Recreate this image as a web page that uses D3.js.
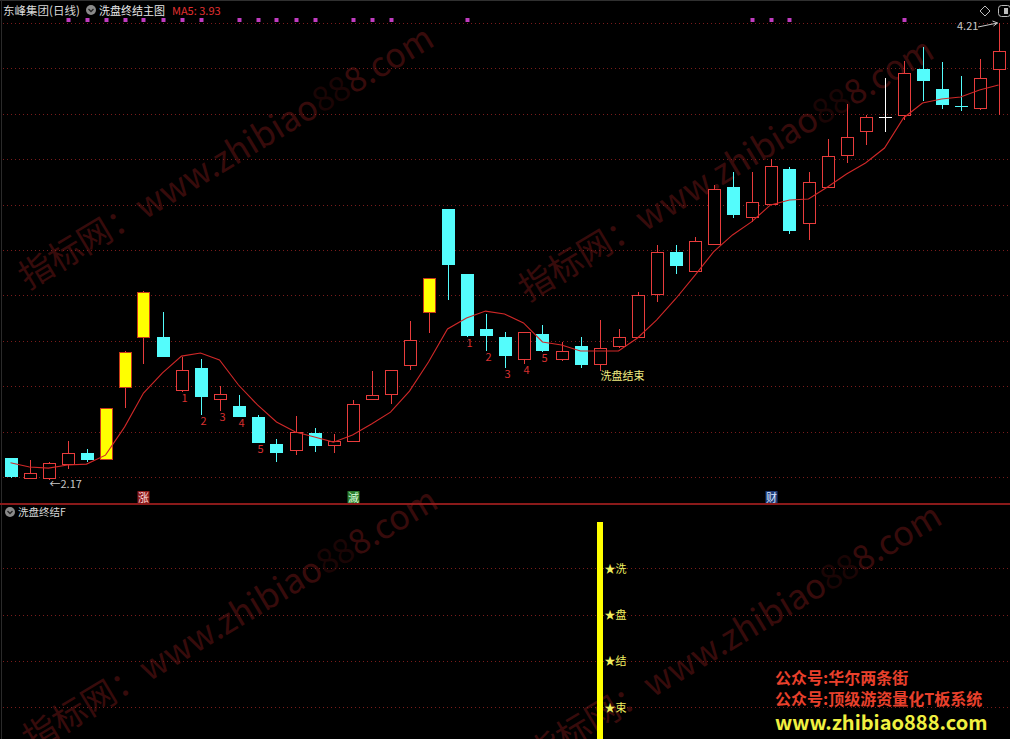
<!DOCTYPE html>
<html><head><meta charset="utf-8">
<script src="https://cdn.jsdelivr.net/npm/d3@7"></script>
<style>
html,body{margin:0;padding:0;background:#000;overflow:hidden}
svg{display:block}
text{font-family:"Noto Sans CJK SC","Noto Sans",sans-serif}
</style></head><body>
<svg id="c" width="1010" height="739"></svg>
<script>
// ---------- data ----------
const opens  = [2.27,2.18,2.18,2.24,2.29,2.265,2.585,2.81,2.81,2.57,2.67,2.53,2.50,2.45,2.33,2.305,2.38,2.325,2.345,2.53,2.555,2.685,2.92,3.38,3.09,2.845,2.81,2.71,2.82,2.71,2.77,2.69,2.77,2.81,3.00,3.19,3.105,3.225,3.48,3.345,3.40,3.56,3.315,3.48,3.62,3.73,3.79,3.80,4.005,3.915,3.84,3.83,4.005];
const highs  = [2.27,2.26,2.25,2.345,2.31,2.49,2.745,3.015,2.92,2.72,2.71,2.59,2.55,2.46,2.355,2.455,2.40,2.375,2.525,2.655,2.66,2.88,3.07,3.38,3.09,2.91,2.83,2.83,2.86,2.785,2.81,2.885,2.845,3.01,3.22,3.22,3.255,3.485,3.545,3.545,3.605,3.565,3.545,3.69,3.85,3.80,3.965,4.04,4.105,4.035,3.975,4.05,4.21];
const lows   = [2.18,2.175,2.17,2.22,2.25,2.26,2.49,2.69,2.72,2.565,2.46,2.48,2.45,2.335,2.25,2.28,2.295,2.29,2.34,2.525,2.51,2.66,2.825,2.975,2.81,2.745,2.67,2.69,2.74,2.70,2.67,2.655,2.76,2.81,2.965,3.09,3.10,3.22,3.34,3.32,3.40,3.27,3.24,3.48,3.585,3.665,3.725,3.775,3.86,3.825,3.815,3.82,3.80];
const closes = [2.185,2.20,2.245,2.29,2.26,2.49,2.74,3.01,2.72,2.66,2.54,2.555,2.45,2.335,2.29,2.385,2.32,2.345,2.51,2.55,2.66,2.795,3.07,3.13,2.815,2.815,2.725,2.83,2.745,2.745,2.685,2.76,2.81,2.995,3.19,3.125,3.235,3.47,3.355,3.41,3.57,3.28,3.50,3.615,3.70,3.79,3.79,3.985,3.95,3.845,3.84,3.965,4.085];
const ma5    = [2.247,2.228,2.223,2.237,2.241,2.281,2.406,2.558,2.648,2.723,2.737,2.706,2.594,2.505,2.429,2.384,2.362,2.339,2.371,2.42,2.473,2.567,2.697,2.844,2.893,2.924,2.911,2.871,2.786,2.773,2.746,2.746,2.746,2.804,2.884,2.978,3.081,3.188,3.264,3.322,3.398,3.42,3.424,3.478,3.536,3.585,3.652,3.786,3.853,3.871,3.88,3.911,3.933];
const limitUpIdx = [5,6,7,22];
const dotIdx = [3,4,5,6,7,8,9,10,12,13,14,15,16,18,19,20,24,39,40,41,47];
const countIdx = [9,10,11,12,13,24,25,26,27,28];
const countTxt = ["1","2","3","4","5","1","2","3","4","5"];
const washEndIdx = 31;
const washEndTxt = "洗盘结束";
const sigIdx = [7,18,40];
const sigTxt = ["涨","滅","财"];
const sigBg = ["#8a1a1a","#2c7a2c","#1e3c78"];
const sigFg = ["#ffd8d8","#d8ffd8","#d8e4ff"];
const priceGrid = [4.21,4.007,3.805,3.602,3.399,3.197,2.994,2.791,2.588,2.386,2.183];
const lowGrid = [4,3,2,1];
const lowBarValue = 5;
const lowStarTxt = ["★洗","★盘","★结","★束"];
const maxPrice = 4.21, minPrice = 2.17, maxIdx = 52, minIdx = 2;
const titleStock = "东峰集团(日线)";
const titleMain = "洗盘终结主图";
const titleMA = "MA5: 3.93";
const titleSub = "洗盘终结F";
const adLines = ["公众号:华尔两条街","公众号:顶级游资量化T板系统","www.zhibiao888.com"];
const wmParts = ["指标网：www.zhibiao","88","8.com"];

// ---------- setup ----------
const svg = d3.select("#c");
const W = 1010, H = 739;
const RED = "#e83c3c", CYAN = "#54fcfc", YEL = "#ffff00", GRID = "#7a1c1c";
const n = closes.length;
const x = d3.scaleLinear().domain([0, n-1]).range([10.5, 998.5]);
const y = d3.scaleLinear().domain([minPrice, maxPrice]).range([480, 23]);
const yl = d3.scaleLinear().domain([0, 5]).range([753.5, 522]);
const px = i => Math.round(x(i)) + 0.5;
const hw = 6;

svg.append("rect").attr("width",W).attr("height",H).attr("fill","#000");

// frame
svg.append("line").attr("x1",0).attr("x2",W).attr("y1",0.5).attr("y2",0.5).attr("stroke","#303030");
svg.append("line").attr("x1",1.5).attr("x2",1.5).attr("y1",0).attr("y2",H).attr("stroke","#2a2a2a");

// grid main
svg.append("g").selectAll("line").data(priceGrid).join("line")
  .attr("x1",3).attr("x2",W).attr("y1",d=>Math.round(y(d))+0.5).attr("y2",d=>Math.round(y(d))+0.5)
  .attr("stroke",GRID).attr("stroke-dasharray","1,3");

// grid low
svg.append("g").selectAll("line").data(lowGrid).join("line")
  .attr("x1",3).attr("x2",W).attr("y1",d=>Math.round(yl(d))+0.5).attr("y2",d=>Math.round(yl(d))+0.5)
  .attr("stroke",GRID).attr("stroke-dasharray","1,3");

// separator
svg.append("line").attr("x1",0).attr("x2",W).attr("y1",504).attr("y2",504).attr("stroke","#8a1a1a").attr("stroke-width",2);

// watermarks
const wmG = svg.append("g").attr("pointer-events","none");
[[28,290],[528,302],[32,752],[536,768]].forEach(([a,b])=>{
  const t = wmG.append("text").attr("transform",`translate(${a},${b}) rotate(-31)`)
    .attr("font-size",34).attr("fill","#9a2020").attr("opacity",0.36);
  t.append("tspan").text(wmParts[0]);
  t.append("tspan").attr("fill","#4a0e0e").text(wmParts[1]);
  t.append("tspan").text(wmParts[2]);
});

// header
svg.append("text").attr("x",3).attr("y",15).attr("font-size",11.5).attr("fill","#d8d8d8").text(titleStock);
const ic = svg.append("g").attr("transform","translate(91,10)");
ic.append("circle").attr("r",5).attr("fill","#8a8a8a");
ic.append("path").attr("d","M-2.5,-1 L0,1.5 L2.5,-1").attr("fill","none").attr("stroke","#222").attr("stroke-width",1.3);
svg.append("text").attr("x",99).attr("y",15).attr("font-size",11).attr("fill","#e8e8e8").text(titleMain);
svg.append("text").attr("x",172).attr("y",15).attr("font-size",11).attr("fill","#e03030").attr("font-family","Liberation Sans, Arial").text(titleMA);

// top-right icons
svg.append("path").attr("d","M985,6 L990,11 L985,16 L980,11 Z").attr("fill","none").attr("stroke","#bbb");
svg.append("rect").attr("x",998.5).attr("y",5.5).attr("width",12).attr("height",11).attr("rx",3).attr("fill","none").attr("stroke","#bbb");
svg.append("rect").attr("x",1004).attr("y",8).attr("width",4).attr("height",6).attr("fill","#bbb");

// dots
svg.append("g").selectAll("rect").data(dotIdx).join("rect")
  .attr("x",d=>px(d)-2).attr("y",18).attr("width",4).attr("height",4).attr("fill","#c03cc0");

// candles
const cg = svg.append("g");
for (let i=0;i<n;i++){
  const o=opens[i], c=closes[i], h=highs[i], l=lows[i];
  const xc = px(i);
  const isLU = limitUpIdx.includes(i);
  let col;
  if (c>o) col=RED; else if (c<o) col=CYAN;
  else { const pc = i>0?closes[i-1]:c; col = c>pc?RED:(c<pc?CYAN:"#ffffff"); }
  const yt = Math.round(y(Math.max(o,c))), yb = Math.round(y(Math.min(o,c)));
  const yh = Math.round(y(h)), ylw = Math.round(y(l));
  if (c===o){
    cg.append("line").attr("x1",xc).attr("x2",xc).attr("y1",yh).attr("y2",ylw).attr("stroke",col);
    cg.append("line").attr("x1",xc-hw-0.5).attr("x2",xc+hw+0.5).attr("y1",yt+0.5).attr("y2",yt+0.5).attr("stroke",col);
  } else if (col===RED){
    cg.append("line").attr("x1",xc).attr("x2",xc).attr("y1",yh).attr("y2",yt).attr("stroke",RED);
    cg.append("line").attr("x1",xc).attr("x2",xc).attr("y1",yb).attr("y2",ylw).attr("stroke",RED);
    cg.append("rect").attr("x",xc-hw).attr("y",yt+0.5).attr("width",hw*2).attr("height",Math.max(1,yb-yt))
      .attr("fill",isLU?YEL:"#000").attr("stroke",isLU?"#c83a1a":RED);
  } else {
    cg.append("line").attr("x1",xc).attr("x2",xc).attr("y1",yh).attr("y2",ylw).attr("stroke",CYAN);
    cg.append("rect").attr("x",xc-hw-0.5).attr("y",yt).attr("width",hw*2+1).attr("height",Math.max(1,yb-yt))
      .attr("fill",CYAN);
  }
}

// MA5
svg.append("path").datum(ma5).attr("fill","none").attr("stroke","#d02828").attr("stroke-width",1.1)
  .attr("d", d3.line().x((d,i)=>x(i)).y(d=>y(d)));

// count labels
svg.append("g").selectAll("text").data(countIdx).join("text")
  .attr("x",d=>px(d)+2).attr("y",d=>y(lows[d])+10).attr("text-anchor","middle")
  .attr("font-size",11).attr("fill","#d83030").attr("font-family","Liberation Sans, Arial")
  .text((d,i)=>countTxt[i]);

// wash end text
svg.append("text").attr("x",px(washEndIdx)).attr("y",380).attr("font-size",11).attr("fill","#f0ec80").text(washEndTxt);

// max/min markers
svg.append("text").attr("x",957).attr("y",30).attr("font-size",11).attr("fill","#c8c8c8").attr("font-family","Liberation Sans, Arial").text(maxPrice.toFixed(2));
svg.append("path").attr("d",`M978,${y(maxPrice)+4} L${px(maxIdx)-2},${y(maxPrice)} M${px(maxIdx)-7},${y(maxPrice)-2} L${px(maxIdx)-2},${y(maxPrice)} L${px(maxIdx)-6},${y(maxPrice)+3}`)
  .attr("fill","none").attr("stroke","#c8c8c8");
svg.append("text").attr("x",px(minIdx)).attr("y",y(minPrice)+8).attr("font-size",11).attr("fill","#c8c8c8").attr("font-family","DejaVu Sans, Liberation Sans").text("←" + minPrice.toFixed(2));

// signal boxes
const sg = svg.append("g").selectAll("g").data(sigIdx).join("g").attr("transform",d=>`translate(${px(d)},497)`);
sg.append("rect").attr("x",-6).attr("y",-6).attr("width",12).attr("height",12).attr("fill",(d,i)=>sigBg[i]);
sg.append("text").attr("y",4.5).attr("text-anchor","middle").attr("font-size",11).attr("fill",(d,i)=>sigFg[i]).text((d,i)=>sigTxt[i]);

// lower panel header
const ic2 = svg.append("g").attr("transform","translate(10,512)");
ic2.append("circle").attr("r",5).attr("fill","#8a8a8a");
ic2.append("path").attr("d","M-2.5,-1 L0,1.5 L2.5,-1").attr("fill","none").attr("stroke","#222").attr("stroke-width",1.3);
svg.append("text").attr("x",18).attr("y",516).attr("font-size",10.5).attr("fill","#d8d8d8").text(titleSub);

// lower panel bar
svg.append("rect").attr("x",px(washEndIdx)-3.5).attr("y",yl(lowBarValue)).attr("width",6)
  .attr("height",yl(0)-yl(lowBarValue)).attr("fill",YEL);
svg.append("g").selectAll("text").data(lowGrid).join("text")
  .attr("x",px(washEndIdx)+4).attr("y",d=>yl(d)+4.5).attr("font-size",11).attr("fill","#f0f060")
  .text((d,i)=>lowStarTxt[i]);

// ad text
svg.append("text").attr("x",775).attr("y",684).attr("font-size",16).attr("font-weight","bold").attr("fill","#e8402c").text(adLines[0]);
svg.append("text").attr("x",775).attr("y",705).attr("font-size",16).attr("font-weight","bold").attr("fill","#e8402c").text(adLines[1]);
svg.append("text").attr("x",775).attr("y",730).attr("font-size",20).attr("font-weight","bold").attr("fill","#f0f040").attr("font-family","Noto Sans, sans-serif").text(adLines[2]);
</script>
</body></html>
